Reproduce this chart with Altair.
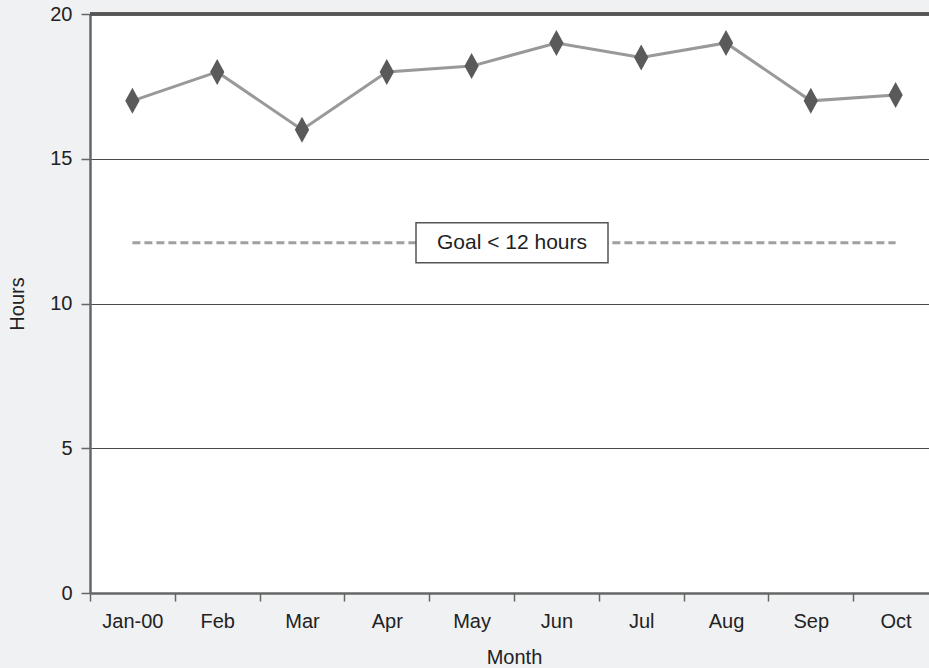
import altair as alt
import pandas as pd

months = ["Jan-00", "Feb", "Mar", "Apr", "May", "Jun", "Jul", "Aug", "Sep", "Oct"]
hours = [17.0, 18.0, 16.0, 18.0, 18.2, 19.0, 18.5, 19.0, 17.0, 17.2]
goal_value = 12.1
goal_months = ["Jan-00", "Oct"]
goal_label = "Goal < 12 hours"
label_month = "Jun"
y_ticks = [0, 5, 10, 15, 20]

df = pd.DataFrame({"month": months, "hours": hours})
goal_df = pd.DataFrame({"month": goal_months, "hours": [goal_value] * len(goal_months)})
label_df = pd.DataFrame({"month": [label_month], "hours": [goal_value], "label": [goal_label]})

FONT = "Liberation Sans"

xscale = alt.Scale(type="band", domain=months, range=[0, 848], paddingInner=0, paddingOuter=0)
yscale = alt.Scale(domain=[0, 20], nice=False)

x_axis = alt.Axis(title="Month", labelAngle=0, tickBand="extent", grid=False,
                  tickSize=8, labelPadding=10, titlePadding=16)
y_axis = alt.Axis(title="Hours", values=y_ticks, grid=True, tickSize=9,
                  labelPadding=9, titlePadding=22, gridColor="#4a4a4a", gridWidth=1)

X = alt.X("month:N", scale=xscale, axis=x_axis, sort=months)
Y = alt.Y("hours:Q", scale=yscale, axis=y_axis)

base = alt.Chart(df)

line = base.mark_line(color="#999999", strokeWidth=3).encode(x=X, y=Y)

diamond = "M0,-1L0.55,0L0,1L-0.55,0Z"
points = base.mark_point(shape=diamond, size=676, filled=True, color="#5a5a5a", opacity=1).encode(x=X, y=Y)

goal = alt.Chart(goal_df).mark_line(color="#a0a0a0", strokeWidth=3, strokeDash=[8, 4]).encode(x=X, y=Y)

box_shape = "M-1,-0.208L1,-0.208L1,0.208L-1,0.208Z"
XB = alt.X("month:N", scale=xscale, axis=x_axis, sort=months, bandPosition=0)
box = alt.Chart(label_df).mark_point(shape=box_shape, size=36864, filled=True, fill="white",
                                     stroke="#555555", strokeWidth=1.5, opacity=1, xOffset=-2).encode(
    x=XB, y=Y)
text = alt.Chart(label_df).mark_text(font=FONT, fontSize=21, color="#222222", baseline="middle",
                                     xOffset=-2).encode(x=XB, y=Y, text="label:N")

top = alt.Chart(df).mark_rule(color="#555555", strokeWidth=2.5).encode(y=alt.datum(20))

chart = alt.layer(goal, line, points, box, text, top).properties(
    width=839, height=579,
    background="#f0f1f3",
    padding={"left": 90, "top": 14, "right": 0, "bottom": 75},
    autosize=alt.AutoSizeParams(type="none"),
).configure_view(fill="white", stroke=None).configure_axis(
    domainColor="#666666", domainWidth=2.5, tickColor="#666666", tickWidth=1.5,
    labelFont=FONT, labelFontSize=20, labelColor="#222222",
    titleFont=FONT, titleFontSize=20, titleFontWeight="normal", titleColor="#222222",
)

chart.save("out.html", embed_options={"renderer": "svg", "actions": False})
